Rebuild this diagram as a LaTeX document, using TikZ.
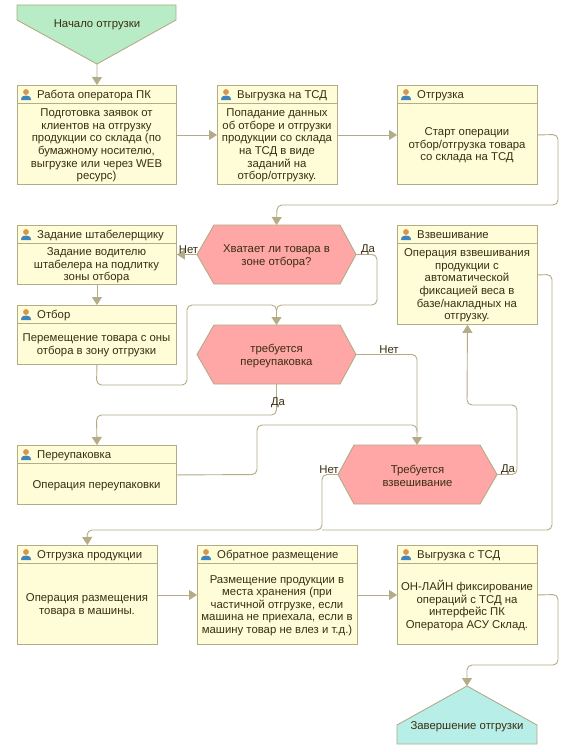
\documentclass[tikz,border=0pt]{standalone}
\usepackage{fontspec}
\setmainfont{Liberation Sans}
\usetikzlibrary{arrows.meta,positioning,calc}
\definecolor{edgec}{HTML}{B3AC86}
\definecolor{boxfill}{HTML}{FEFDD8}
\definecolor{txtc}{HTML}{3A2E10}
\definecolor{greenf}{HTML}{B8ECC6}
\definecolor{pinkf}{HTML}{FFA6A6}
\definecolor{tealf}{HTML}{B8EEE8}
\definecolor{skinc}{HTML}{D9954F}
\definecolor{shirtc}{HTML}{3F86BE}
\tikzset{
  x=1pt,y=-1pt,
  every node/.style={text=txtc,font=\fontsize{11.35}{12.6}\selectfont},
  shapeline/.style={draw=edgec,line width=0.9pt,line join=miter},
  conn/.style={draw=edgec,line width=0.9pt,rounded corners=5pt,-{Triangle[length=8pt,width=10pt,fill=edgec]}},
  plain/.style={draw=edgec,line width=0.9pt,rounded corners=5pt},
  bodytxt/.style={align=center,inner sep=0pt},
  headtxt/.style={anchor=base west,inner sep=0pt},
  lbl/.style={inner sep=0pt},
  boxframe/.style={rectangle,draw=edgec,fill=boxfill,line width=0.9pt,inner sep=0pt,anchor=north west},
}
% #1 name, #2 x, #3 y, #4 w, #5 h, #6 head, #7 body
\newcommand{\procbox}[7]{%
  \node[boxframe,minimum width=#4pt,minimum height=#5pt] (#1) at (#2,#3) {};
  \draw[shapeline] (#2,#3+18) -- (#2+#4,#3+18);
  \begin{scope}[shift={(#2+9,#3+8)}]
    \fill[skinc] (0,-1) circle[radius=2.9pt];
    \fill[shirtc] (-5,7) .. controls (-5,3) and (-2,2.5) .. (0,2.5) .. controls (2,2.5) and (5,3) .. (5,7) -- cycle;
  \end{scope}
  \node[headtxt] (#1h) at (#2+20,#3+13) {#6};
  \node[bodytxt] (#1b) at (#2+#4/2,#3+20+#5/2-9) {#7};
}
\newcommand{\hexa}[7]{% name, x0,x1(corner),x2(corner),x3, ytop, text
  \draw[shapeline,fill=pinkf] (#2,#6+29.5) -- (#3,#6) -- (#4,#6) -- (#5,#6+29.5) -- (#4,#6+59) -- (#3,#6+59) -- cycle;
  \node[align=center,inner sep=0pt] (#1) at ({(#2+#5)/2},#6+31) {#7};
  \coordinate (#1L) at (#2,#6+29.5);
  \coordinate (#1R) at (#5,#6+29.5);
  \coordinate (#1T) at ({(#2+#5)/2},#6);
  \coordinate (#1B) at ({(#2+#5)/2},#6+59);
}
\begin{document}
\begin{tikzpicture}
\useasboundingbox (0,0) rectangle (574,752);
\fill[white] (0,0) rectangle (574,752);
% start
\draw[shapeline,fill=greenf] (17,5) -- (176,5) -- (176,20) -- (97,64) -- (17,20) -- cycle;
\node (startn) at (97,25) {Начало отгрузки};
\coordinate (startp) at (97,64);
% boxes
\procbox{a}{17}{85}{159}{99}{Работа оператора ПК}{Подготовка заявок от\\клиентов на отгрузку\\продукции со склада (по\\бумажному носителю,\\выгрузке или через WEB\\ресурс)}
\procbox{b}{217}{85}{120}{99}{Выгрузка на ТСД}{Попадание данных\\об отборе и отгрузки\\продукции со склада\\на ТСД в виде\\заданий на\\отбор/отгрузку.}
\procbox{c}{397}{85}{140}{99}{Отгрузка}{Старт операции\\отбор/отгрузка товара\\со склада на ТСД}
\procbox{d}{17}{225}{159}{59}{Задание штабелерщику}{Задание водителю\\штабелера на подлитку\\зоны отбора}
\procbox{e}{17}{305}{159}{59}{Отбор}{Перемещение товара с оны\\отбора в зону отгрузки}
\procbox{w}{397}{225}{140}{99}{Взвешивание}{Операция взвешивания\\продукции с\\автоматической\\фиксацией веса в\\базе/накладных на\\отгрузку.}
\procbox{p}{17}{445}{159}{59}{Переупаковка}{Операция переупаковки}
\procbox{s}{17}{545}{140}{99}{Отгрузка продукции}{Операция размещения\\товара в машины.}
\procbox{r}{197}{545}{160}{99}{Обратное размещение}{Размещение продукции в\\места хранения (при\\частичной отгрузке, если\\машина не приехала, если в\\машину товар не влез и т.д.)}
\procbox{v}{397}{545}{140}{99}{Выгрузка с ТСД}{ОН-ЛАЙН фиксирование\\операций с ТСД на\\интерфейс ПК\\Оператора АСУ Склад.}
% hexagons
\hexa{h}{197}{214}{340}{356}{225}{Хватает ли товара в\\зоне отбора?}
\hexa{q}{197}{214}{340}{356}{325}{требуется\\переупаковка}
\hexa{t}{338}{354}{480}{497}{445}{Требуется\\взвешивание}
% end
\draw[shapeline,fill=tealf] (467,686) -- (537,725) -- (537,744) -- (397,744) -- (397,725) -- cycle;
\node (endn) at (467,727) {Завершение отгрузки};
\coordinate (endp) at (467,686);
% connectors
\draw[conn] (startp) -- (a.north);
\draw[conn] (a.east) -- (b.west);
\draw[conn] (b.east) -- (c.west);
\draw[conn] (c.east) -- (558,134.5) -- (558,205) -- (277,205) -- (hT);
\draw[conn] (hL) -- (d.east |- hL);
\draw[conn] (d.south) -- (e.north);
\draw[conn] (hR) -- (377,254.5) -- (377,305) -- (276.5,305) -- (qT);
\draw[plain] (e.south) -- (96.5,385) -- (187,385) -- (187,305) -- (276.5,305) -- (276.5,312);
\draw[conn] (qB) -- (276.5,415) -- (96.5,415) -- (p.north);
\draw[conn] (qR) -- (417,354.5) -- (417,445);
\draw[plain] (p.east) -- (257,474.5) -- (257,425) -- (417,425) -- (417,432);
\draw[conn] (tL) -- (322,474.5) -- (322,530) -- (87,530) -- (s.north);
\draw[plain] (w.east) -- (552,274.5) -- (552,530) -- (322,530);
\draw[conn] (tR) -- (517,474.5) -- (517,405) -- (467,405) -- (w.south);
\draw[conn] (s.east) -- (r.west);
\draw[conn] (r.east) -- (v.west);
\draw[conn] (v.east) -- (558,594.5) -- (558,665) -- (467,665) -- (endp);
% labels
\node[lbl] (l1) at (188.5,249.5) {Нет};
\node[lbl] (l2) at (368,249.5) {Да};
\node[lbl] (l3) at (389,349.5) {Нет};
\node[lbl] (l4) at (278,402.5) {Да};
\node[lbl] (l5) at (329,469.5) {Нет};
\node[lbl] (l6) at (508,469.5) {Да};
\end{tikzpicture}
\end{document}
